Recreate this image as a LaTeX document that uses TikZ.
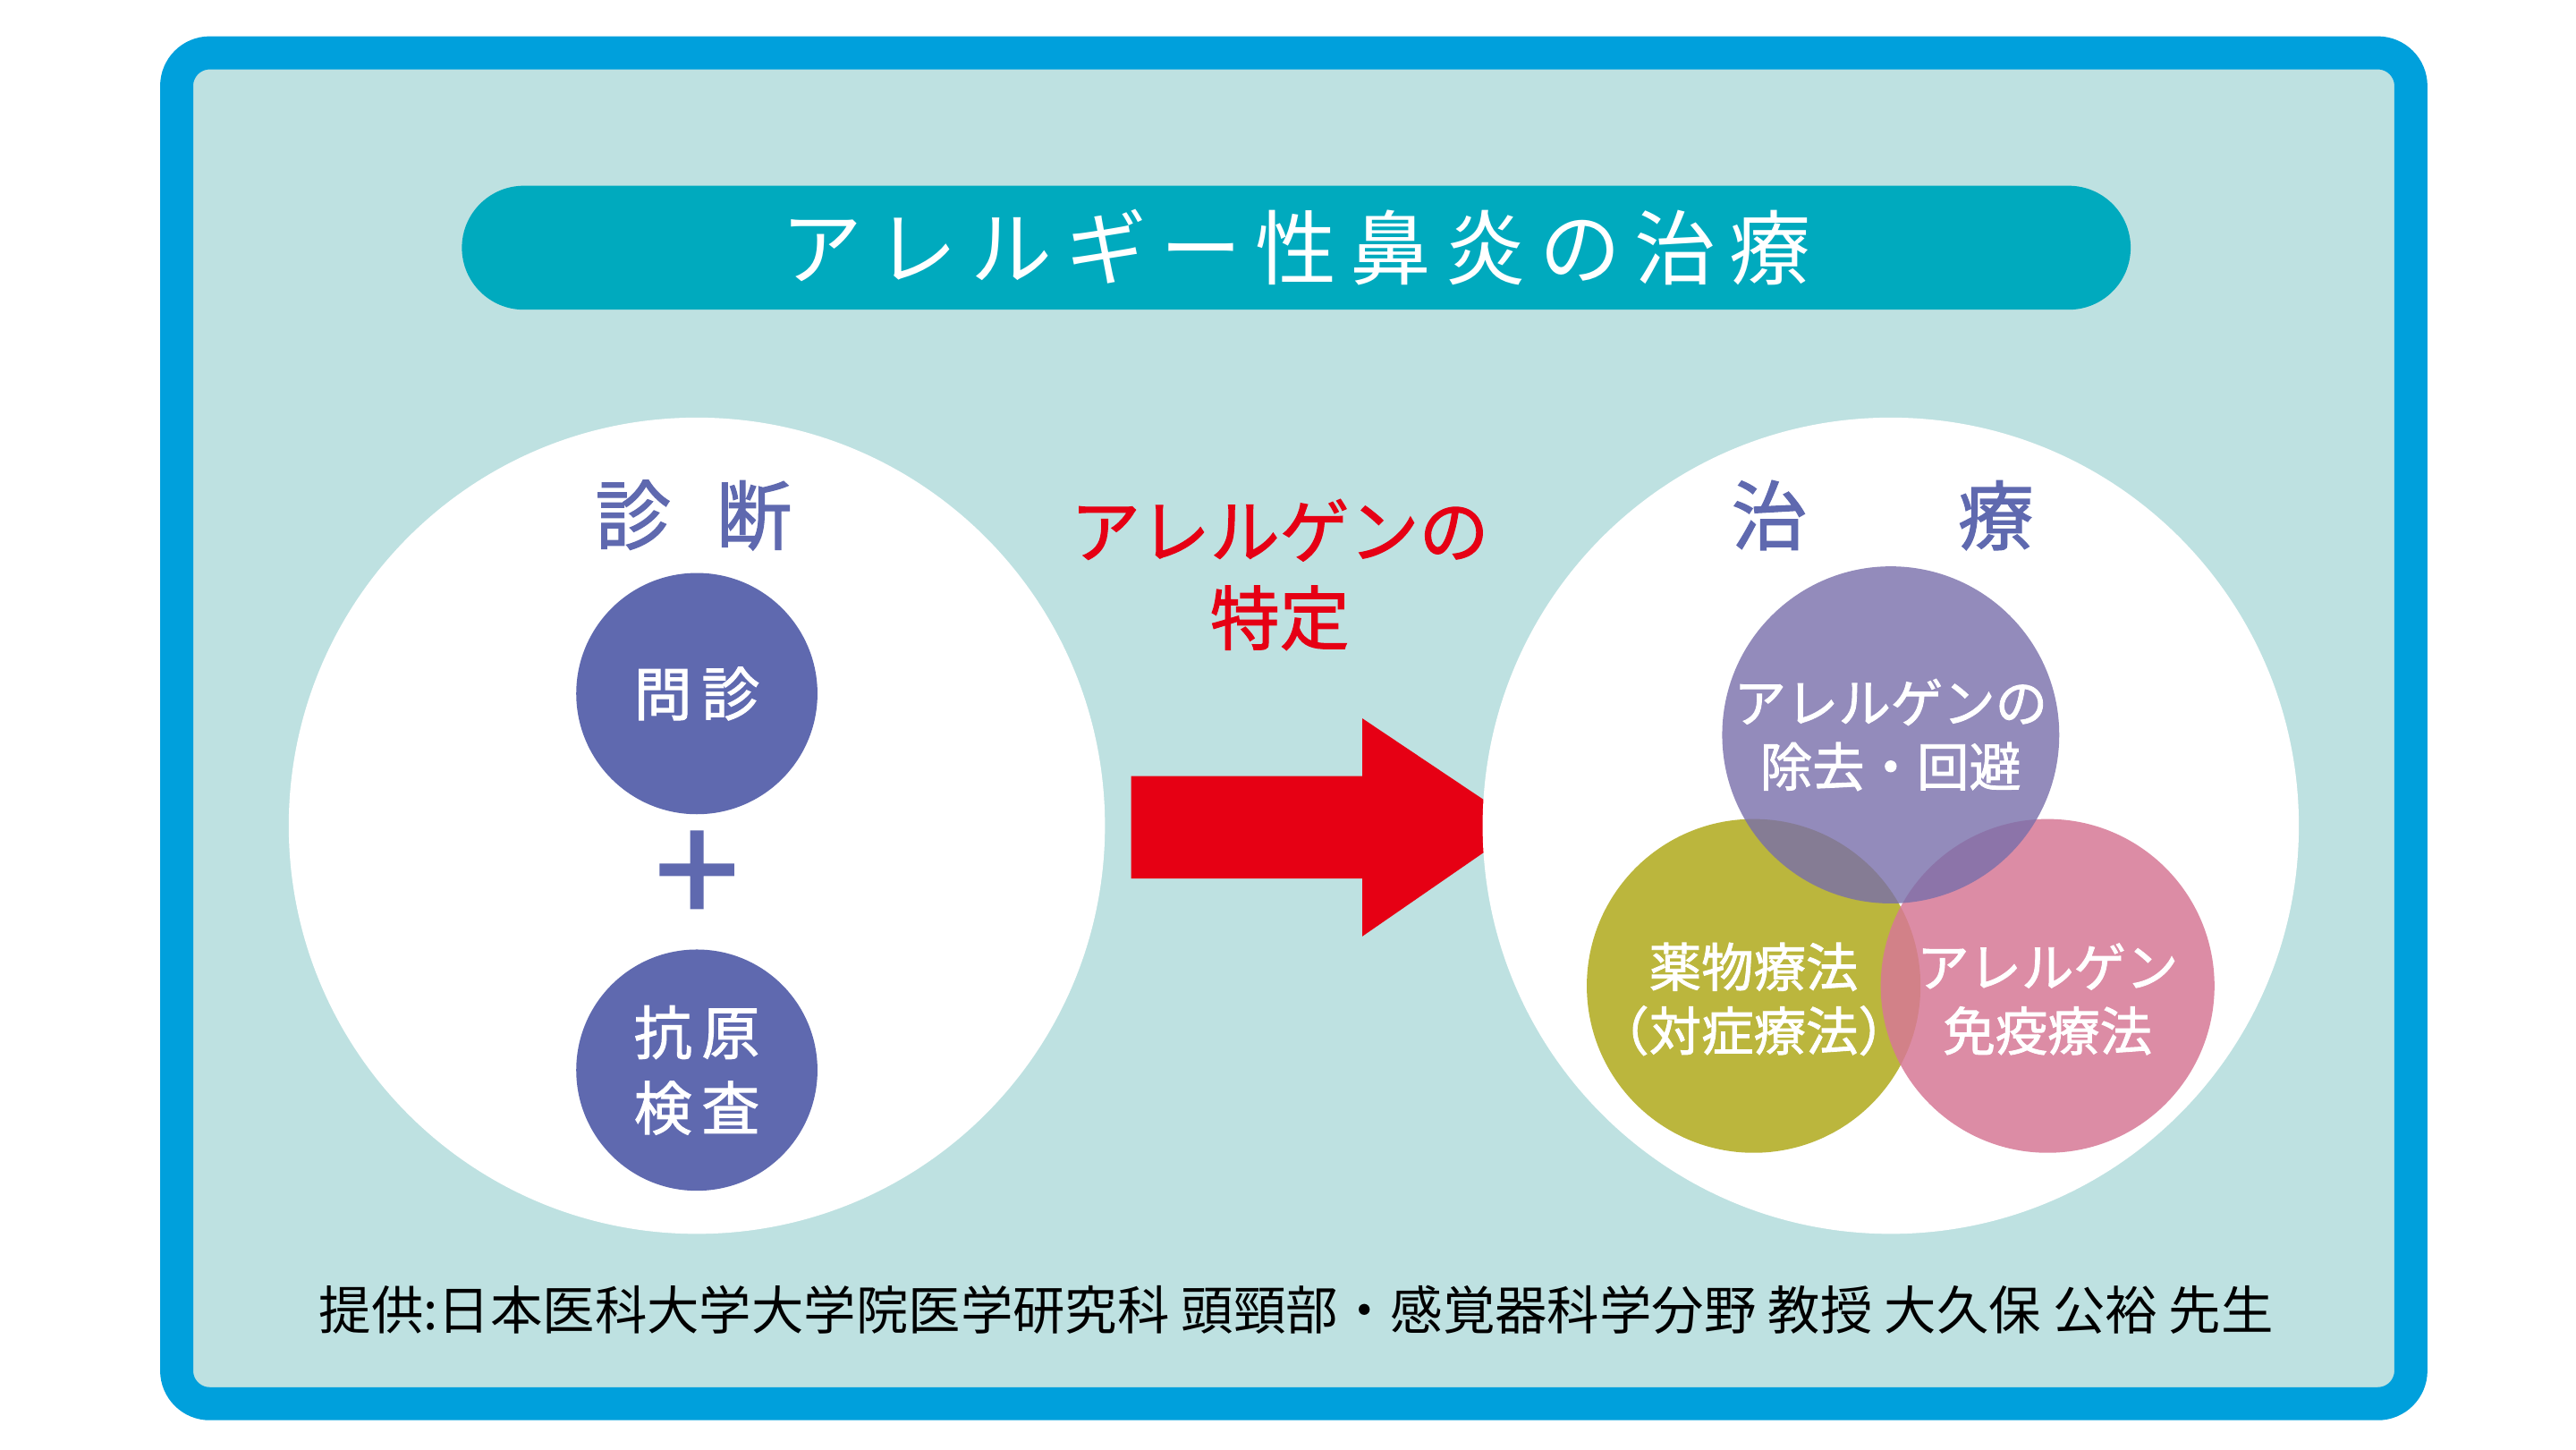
\documentclass[tikz,border=0pt]{standalone}
\usepackage{fontspec}
\setmainfont{Noto Sans CJK JP}
\newfontfamily\jpbold[FakeBold=1.5]{Noto Sans CJK JP}
\usetikzlibrary{positioning}
\definecolor{frameblue}{RGB}{0,160,220}
\definecolor{bgteal}{RGB}{190,225,225}
\definecolor{pillteal}{RGB}{0,170,190}
\definecolor{slate}{RGB}{95,105,175}
\definecolor{hotred}{RGB}{230,0,20}
\definecolor{violet}{RGB}{120,110,170}
\definecolor{olive}{RGB}{180,175,40}
\definecolor{rose}{RGB}{215,120,150}
\tikzset{
  big/.style={circle, fill=white, minimum size=4.94cm, inner sep=0pt},
  step circ/.style={circle, fill=slate, text=white, minimum size=1.46cm, inner sep=0pt, font=\jpbold\fontsize{10}{13}\selectfont, align=center},
  venn/.style={circle, minimum size=2.02cm, inner sep=0pt, text=white, font=\jpbold\fontsize{9}{11}\selectfont, align=center},
}
\begin{document}
\begin{tikzpicture}[x=0.01cm, y=-0.01cm]
    \useasboundingbox (0,0) rectangle (1560,878);
    \fill[white] (0,0) rectangle (1560,878);
    % frame
    \draw[line width=0.2cm, frameblue, fill=bgteal, rounded corners=0.2cm] (107,32) rectangle (1460,850);
    \node (title) [fill=pillteal, rounded corners=0.375cm, minimum width=10.1cm, minimum height=0.75cm, text=white, font=\fontsize{14}{16}\selectfont] at (785,150) {ア\,レ\,ル\,ギ\,ー\,性\,鼻\,炎\,の\,治\,療};
    % left
    \node (diag) [big] at (422,500) {};
    \node (diaglabel) [text=slate, font=\jpbold\fontsize{13}{15}\selectfont] at (420,312) {診\hspace{0.6em}断};
    \node (monshin) [step circ] at (422,420) {問\,診};
    \node (plus) [text=slate, font=\jpbold\fontsize{26}{26}\selectfont] at (422,532) {+};
    \node (kougen) [step circ] at (422,648) {抗\,原\\検\,査};
    % arrow
    \node (identify) [text=hotred, align=center, font=\jpbold\fontsize{12}{15}\selectfont] at (775,348) {アレルゲンの\\特定};
    \fill[hotred] (685,470) -- (825,470) -- (825,435) -- (922,500) -- (825,567) -- (825,532) -- (685,532) -- cycle;
    % right
    \node (treat) [big] at (1145,500) {};
    \node (treatlabel) [text=slate, font=\jpbold\fontsize{13}{15}\selectfont] at (1140,312) {治\hspace{2em}療};
    \node (drug) [venn, fill=olive, opacity=0.9, text opacity=1] at (1062,597) {};
    \node (immuno) [venn, fill=rose, opacity=0.85, text opacity=1] at (1240,597) {};
    \node (avoid) [venn, fill=violet, opacity=0.8, minimum size=2.04cm] at (1145,445) {};
    \node [venn] at (avoid) {アレルゲンの\\除去・回避};
    \node [venn] at (drug.center) [yshift=-0.08cm] {薬物療法\\（対症療法）};
    \node [venn] at (immuno.center) [yshift=-0.08cm] {アレルゲン\\免疫療法};
    % credit
    \node (credit) [font=\fontsize{9}{11}\selectfont] at (785,793) {提供:日本医科大学大学院医学研究科 頭頸部・感覚器科学分野 教授 大久保 公裕 先生};
\end{tikzpicture}
\end{document}
